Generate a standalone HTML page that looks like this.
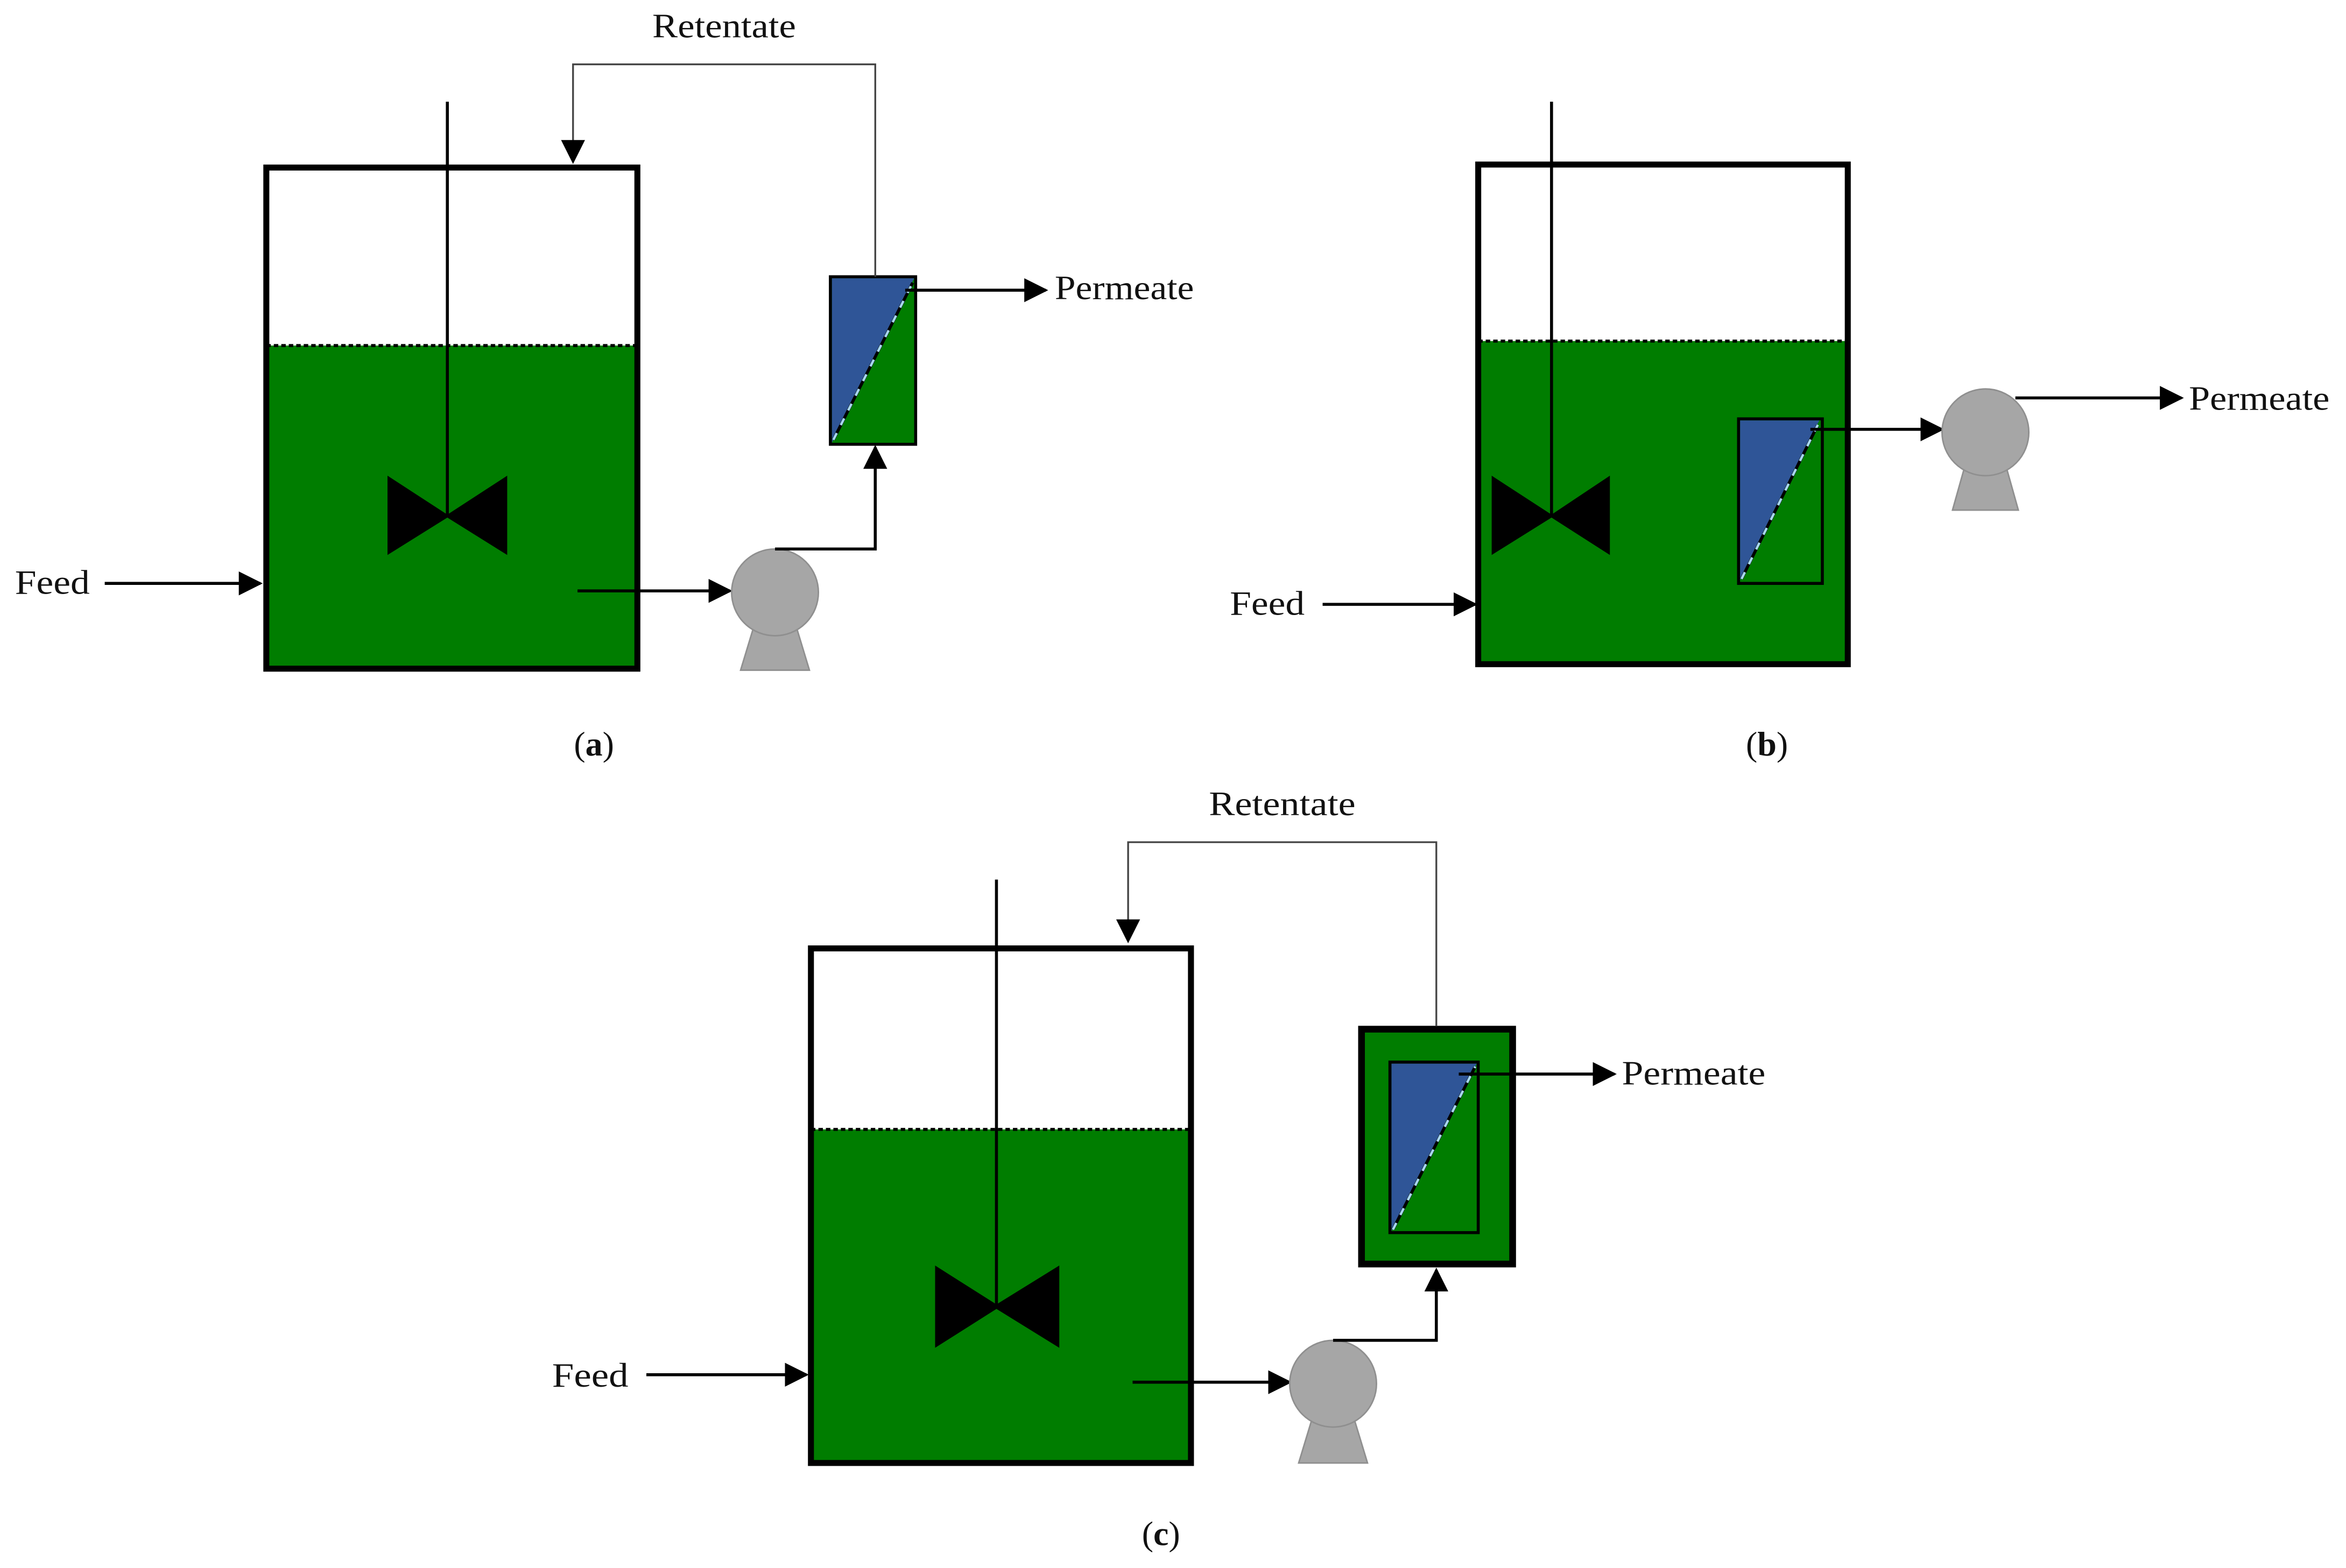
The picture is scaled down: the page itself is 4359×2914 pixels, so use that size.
<!DOCTYPE html>
<html><head><meta charset="utf-8"><style>
html,body{margin:0;padding:0;background:#fff;}
svg{display:block;}
text{font-family:"Liberation Serif",serif;fill:#111;}
</style></head><body>
<svg width="4359" height="2914" viewBox="0 0 1568 1048.2" xmlns="http://www.w3.org/2000/svg">
<defs>
<marker id="ab" viewBox="0 0 10 10" refX="9" refY="5" markerWidth="16" markerHeight="16" markerUnits="userSpaceOnUse" orient="auto">
<path d="M0,0 L10,5 L0,10 z" fill="#000"/></marker>
</defs>

<!-- ===== (a) ===== -->
<rect x="178" y="112" width="248" height="335" fill="#fff"/>
<rect x="178" y="231" width="248" height="216" fill="#007d00"/>
<line x1="178" y1="231" x2="426" y2="231" stroke="#000" stroke-width="2" stroke-dasharray="3,2"/>
<rect x="178" y="112" width="248" height="335" fill="none" stroke="#000" stroke-width="4"/>
<line x1="299" y1="68" x2="299" y2="345" stroke="#000" stroke-width="2"/>
<path d="M259,318 L299,344 L339,318 L339,371 L299,346 L259,371 z" fill="#000"/>
<text x="10" y="397" font-size="23" textLength="50" lengthAdjust="spacingAndGlyphs">Feed</text>
<line x1="70" y1="390" x2="174" y2="390" stroke="#000" stroke-width="2" marker-end="url(#ab)"/>
<line x1="386" y1="395" x2="488" y2="395" stroke="#000" stroke-width="2" marker-end="url(#ab)"/>
<path d="M505,415 L531,415 L541,448 L495,448 z" fill="#a6a6a6" stroke="#8f8f8f"/>
<circle cx="518" cy="396" r="29" fill="#a6a6a6" stroke="#8f8f8f"/>
<polyline points="518,367 585,367 585,299" fill="none" stroke="#000" stroke-width="2" marker-end="url(#ab)"/>
<rect x="555" y="185" width="57" height="112" fill="#007d00"/>
<path d="M556,186 L611,186 L556,296 z" fill="#2f5597"/>
<line x1="557" y1="294" x2="610" y2="189" stroke="#000" stroke-width="2"/>
<line x1="557" y1="294" x2="610" y2="189" stroke="#a8d8f0" stroke-width="1.6" stroke-dasharray="5,6"/>
<rect x="555" y="185" width="57" height="112" fill="none" stroke="#000" stroke-width="2"/>
<line x1="605" y1="194" x2="699" y2="194" stroke="#000" stroke-width="2" marker-end="url(#ab)"/>
<text x="705" y="200" font-size="23" textLength="93" lengthAdjust="spacingAndGlyphs">Permeate</text>
<polyline points="585,185 585,43 383,43 383,108" fill="none" stroke="#444" stroke-width="1.2" marker-end="url(#ab)"/>
<text x="436" y="25" font-size="23" textLength="96" lengthAdjust="spacingAndGlyphs">Retentate</text>
<text x="397" y="505" font-size="23" text-anchor="middle">(<tspan font-weight="bold">a</tspan>)</text>

<!-- ===== (b) ===== -->
<rect x="988" y="110" width="247" height="334" fill="#fff"/>
<rect x="988" y="228" width="247" height="216" fill="#007d00"/>
<line x1="988" y1="228" x2="1235" y2="228" stroke="#000" stroke-width="2" stroke-dasharray="3,2"/>
<rect x="988" y="110" width="247" height="334" fill="none" stroke="#000" stroke-width="4"/>
<line x1="1037" y1="68" x2="1037" y2="345" stroke="#000" stroke-width="2"/>
<path d="M997,318 L1037,344 L1076,318 L1076,371 L1037,346 L997,371 z" fill="#000"/>
<text x="822" y="411" font-size="23" textLength="50" lengthAdjust="spacingAndGlyphs">Feed</text>
<line x1="884" y1="404" x2="986" y2="404" stroke="#000" stroke-width="2" marker-end="url(#ab)"/>
<path d="M1163,281 L1216,281 L1163,388 z" fill="#2f5597"/>
<line x1="1164" y1="387" x2="1215" y2="284" stroke="#000" stroke-width="2"/>
<line x1="1164" y1="387" x2="1215" y2="284" stroke="#a8d8f0" stroke-width="1.6" stroke-dasharray="5,6"/>
<rect x="1162" y="280" width="56" height="110" fill="none" stroke="#000" stroke-width="2"/>
<line x1="1210" y1="287" x2="1298" y2="287" stroke="#000" stroke-width="2" marker-end="url(#ab)"/>
<path d="M1314,309 L1340,309 L1349,341 L1305,341 z" fill="#a6a6a6" stroke="#8f8f8f"/>
<circle cx="1327" cy="289" r="29" fill="#a6a6a6" stroke="#8f8f8f"/>
<line x1="1347" y1="266" x2="1458" y2="266" stroke="#000" stroke-width="2" marker-end="url(#ab)"/>
<text x="1463" y="274" font-size="23" textLength="94" lengthAdjust="spacingAndGlyphs">Permeate</text>
<text x="1181" y="505" font-size="23" text-anchor="middle">(<tspan font-weight="bold">b</tspan>)</text>

<!-- ===== (c) ===== -->
<rect x="542" y="634" width="254" height="344" fill="#fff"/>
<rect x="542" y="755" width="254" height="223" fill="#007d00"/>
<line x1="542" y1="755" x2="796" y2="755" stroke="#000" stroke-width="2" stroke-dasharray="3,2"/>
<rect x="542" y="634" width="254" height="344" fill="none" stroke="#000" stroke-width="4"/>
<line x1="666" y1="588" x2="666" y2="874" stroke="#000" stroke-width="2"/>
<path d="M625,846 L666,872 L708,846 L708,901 L666,875 L625,901 z" fill="#000"/>
<text x="369" y="927" font-size="23" textLength="51" lengthAdjust="spacingAndGlyphs">Feed</text>
<line x1="432" y1="919" x2="539" y2="919" stroke="#000" stroke-width="2" marker-end="url(#ab)"/>
<line x1="757" y1="924" x2="862" y2="924" stroke="#000" stroke-width="2" marker-end="url(#ab)"/>
<path d="M878,945 L904,945 L914,978 L868,978 z" fill="#a6a6a6" stroke="#8f8f8f"/>
<circle cx="891" cy="925" r="29" fill="#a6a6a6" stroke="#8f8f8f"/>
<polyline points="891,896 960,896 960,849" fill="none" stroke="#000" stroke-width="2" marker-end="url(#ab)"/>
<rect x="910" y="688" width="101" height="157" fill="#007d00" stroke="#000" stroke-width="4.5"/>
<path d="M930,711 L987,711 L930,823 z" fill="#2f5597"/>
<line x1="931" y1="822" x2="986" y2="713" stroke="#000" stroke-width="2"/>
<line x1="931" y1="822" x2="986" y2="713" stroke="#a8d8f0" stroke-width="1.6" stroke-dasharray="5,6"/>
<rect x="929" y="710" width="59" height="114" fill="none" stroke="#000" stroke-width="2"/>
<line x1="975" y1="718" x2="1079" y2="718" stroke="#000" stroke-width="2" marker-end="url(#ab)"/>
<text x="1084" y="725" font-size="23" textLength="96" lengthAdjust="spacingAndGlyphs">Permeate</text>
<polyline points="960,686 960,563 754,563 754,629" fill="none" stroke="#444" stroke-width="1.2" marker-end="url(#ab)"/>
<text x="808" y="545" font-size="23" textLength="98" lengthAdjust="spacingAndGlyphs">Retentate</text>
<text x="776" y="1033" font-size="23" text-anchor="middle">(<tspan font-weight="bold">c</tspan>)</text>
</svg>
</body></html>
